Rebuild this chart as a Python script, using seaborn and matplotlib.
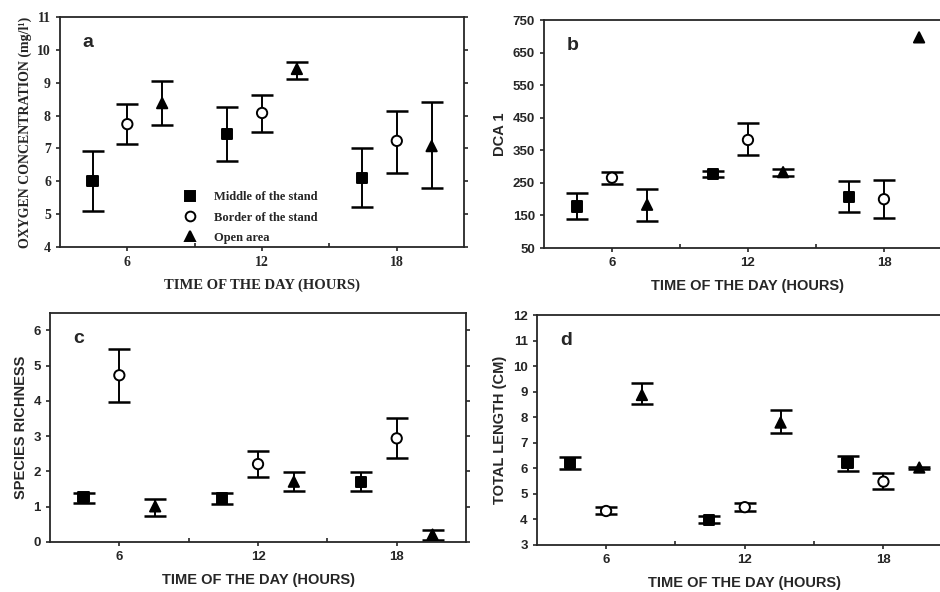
import numpy as np
import pandas as pd
import matplotlib
matplotlib.use('Agg')
import matplotlib.pyplot as plt
import seaborn as sns
from matplotlib.lines import Line2D

## ---------------------------------------------------------------
## DATA
## ---------------------------------------------------------------
hours = [6, 12, 18]
groups = ['Middle of the stand', 'Border of the stand', 'Open area']
offsets = [-1.55, 0.0, 1.55]
markers = {'Middle of the stand': 's', 'Border of the stand': 'o', 'Open area': '^'}

# a - oxygen concentration, per group: values at 6, 12, 18 h
oxy_mid = [6.00, 7.45, 6.10]
oxy_mid_lo = [5.08, 6.62, 5.22]
oxy_mid_hi = [6.93, 8.26, 7.01]
oxy_bor = [7.74, 8.08, 7.23]
oxy_bor_lo = [7.12, 7.50, 6.26]
oxy_bor_hi = [8.36, 8.64, 8.15]
oxy_opn = [8.38, 9.42, 7.07]
oxy_opn_lo = [7.72, 9.12, 5.78]
oxy_opn_hi = [9.06, 9.63, 8.40]

# b - DCA 1 (open area at 18 h has no visible error bar)
dca_mid = [178, 278, 207]
dca_mid_lo = [140, 268, 161]
dca_mid_hi = [218, 288, 255]
dca_bor = [266, 382, 200]
dca_bor_lo = [246, 335, 142]
dca_bor_hi = [285, 433, 259]
dca_opn = [183, 283, 697]
dca_opn_lo = [134, 270, 697]
dca_opn_hi = [231, 292, 697]

# c - species richness
spr_mid = [1.27, 1.23, 1.71]
spr_mid_lo = [1.10, 1.07, 1.45]
spr_mid_hi = [1.40, 1.38, 1.99]
spr_bor = [4.73, 2.21, 2.94]
spr_bor_lo = [3.96, 1.85, 2.37]
spr_bor_hi = [5.48, 2.59, 3.52]
spr_opn = [1.01, 1.71, 0.21]
spr_opn_lo = [0.75, 1.45, 0.07]
spr_opn_hi = [1.23, 1.99, 0.35]

# d - total length
tl_mid = [6.20, 3.98, 6.20]
tl_mid_lo = [5.96, 3.85, 5.91]
tl_mid_hi = [6.46, 4.13, 6.48]
tl_bor = [4.33, 4.48, 5.48]
tl_bor_lo = [4.20, 4.34, 5.19]
tl_bor_hi = [4.50, 4.66, 5.80]
tl_opn = [8.87, 7.79, 6.03]
tl_opn_lo = [8.50, 7.39, 5.96]
tl_opn_hi = [9.33, 8.28, 6.06]


def make_df(mid, mid_lo, mid_hi, bor, bor_lo, bor_hi, opn, opn_lo, opn_hi):
    rows = []
    series = [(mid, mid_lo, mid_hi), (bor, bor_lo, bor_hi), (opn, opn_lo, opn_hi)]
    for g, off, (v, lo, hi) in zip(groups, offsets, series):
        for h, vv, ll, uu in zip(hours, v, lo, hi):
            rows.append(dict(group=g, x=h + off, value=vv, lo=ll, hi=uu))
    return pd.DataFrame(rows)


dfa = make_df(oxy_mid, oxy_mid_lo, oxy_mid_hi, oxy_bor, oxy_bor_lo, oxy_bor_hi, oxy_opn, oxy_opn_lo, oxy_opn_hi)
dfb = make_df(dca_mid, dca_mid_lo, dca_mid_hi, dca_bor, dca_bor_lo, dca_bor_hi, dca_opn, dca_opn_lo, dca_opn_hi)
dfc = make_df(spr_mid, spr_mid_lo, spr_mid_hi, spr_bor, spr_bor_lo, spr_bor_hi, spr_opn, spr_opn_lo, spr_opn_hi)
dfd = make_df(tl_mid, tl_mid_lo, tl_mid_hi, tl_bor, tl_bor_lo, tl_bor_hi, tl_opn, tl_opn_lo, tl_opn_hi)

## ---------------------------------------------------------------
## STYLE
## ---------------------------------------------------------------
sns.set_style('ticks')
plt.rcParams['font.family'] = ['Liberation Sans', 'DejaVu Sans']
plt.rcParams['axes.linewidth'] = 1.3
plt.rcParams['xtick.major.width'] = 1.2
plt.rcParams['ytick.major.width'] = 1.2
plt.rcParams['xtick.minor.width'] = 1.2

fig = plt.figure(figsize=(9.4, 5.92), dpi=100)
ax_a = fig.add_axes([0.0638, 0.583, 0.430, 0.388])
ax_b = fig.add_axes([0.5787, 0.581, 0.434, 0.385])
ax_c = fig.add_axes([0.0532, 0.0845, 0.4426, 0.387])
ax_d = fig.add_axes([0.571, 0.0794, 0.4426, 0.3885])


def draw_panel(ax, df, ylim, yticks, ylabel, letter, serif=False):
    fam = ['Liberation Serif'] if serif else ['Liberation Sans']
    ## error bars only where there is a spread
    eb = df[df['hi'] > df['lo']]
    ax.errorbar(eb['x'], eb['value'],
                yerr=[eb['value'] - eb['lo'], eb['hi'] - eb['value']],
                fmt='none', ecolor='black', elinewidth=1.4, capsize=8, capthick=1.8, zorder=2)
    sns.scatterplot(data=df, x='x', y='value', style='group', markers=markers,
                    hue='group', palette=['black', 'white', 'black'], edgecolor='black',
                    linewidth=1.4, s=55, ax=ax, zorder=3, legend=False)
    ax.set_xlim(3, 21)
    ax.set_ylim(*ylim)
    ax.set_xticks(hours)
    ax.set_xticks([9, 15], minor=True)
    ax.set_yticks(yticks)
    ax.tick_params(axis='both', which='both', direction='out', length=3)
    ax.tick_params(axis='x', which='minor', direction='in', length=3)
    ax.tick_params(axis='y', right=True, which='major')
    for spine in ax.spines.values():
        spine.set_visible(True)
    for lab in ax.get_xticklabels() + ax.get_yticklabels():
        lab.set_family(fam)
        lab.set_fontweight('bold')
        lab.set_fontsize(10 if serif else 9.5)
    ax.set_xlabel('TIME OF THE DAY (HOURS)', family=fam, fontweight='bold',
                  fontsize=10.5, labelpad=7)
    ax.set_ylabel(ylabel, family=fam, fontweight='bold', fontsize=10 if serif else 10.5, labelpad=4)
    ax.text(0.07, 0.89, letter, transform=ax.transAxes, fontsize=14, fontweight='bold',
            ha='center', va='center')


draw_panel(ax_a, dfa, (4, 11), range(4, 12), 'OXYGEN CONCENTRATION (mg/l¹)', 'a', serif=True)
draw_panel(ax_b, dfb, (50, 750), range(50, 751, 100), 'DCA 1', 'b')
draw_panel(ax_c, dfc, (0, 6.5), range(0, 7), 'SPECIES RICHNESS', 'c')
draw_panel(ax_d, dfd, (3, 12), range(3, 13), 'TOTAL LENGTH (CM)', 'd')

## legend in panel a
handles = [Line2D([], [], marker=markers[g], linestyle='none', markersize=7,
                  markerfacecolor=fc, markeredgecolor='black', markeredgewidth=1.4)
           for g, fc in zip(groups, ['black', 'white', 'black'])]
ax_a.legend(handles, groups, loc='lower left', bbox_to_anchor=(0.275, -0.035), frameon=False,
            prop=dict(family='Liberation Serif', weight='bold', size=9), labelspacing=0.65,
            handletextpad=1.3, handlelength=1.2)

fig.savefig('out.png', dpi=100)
